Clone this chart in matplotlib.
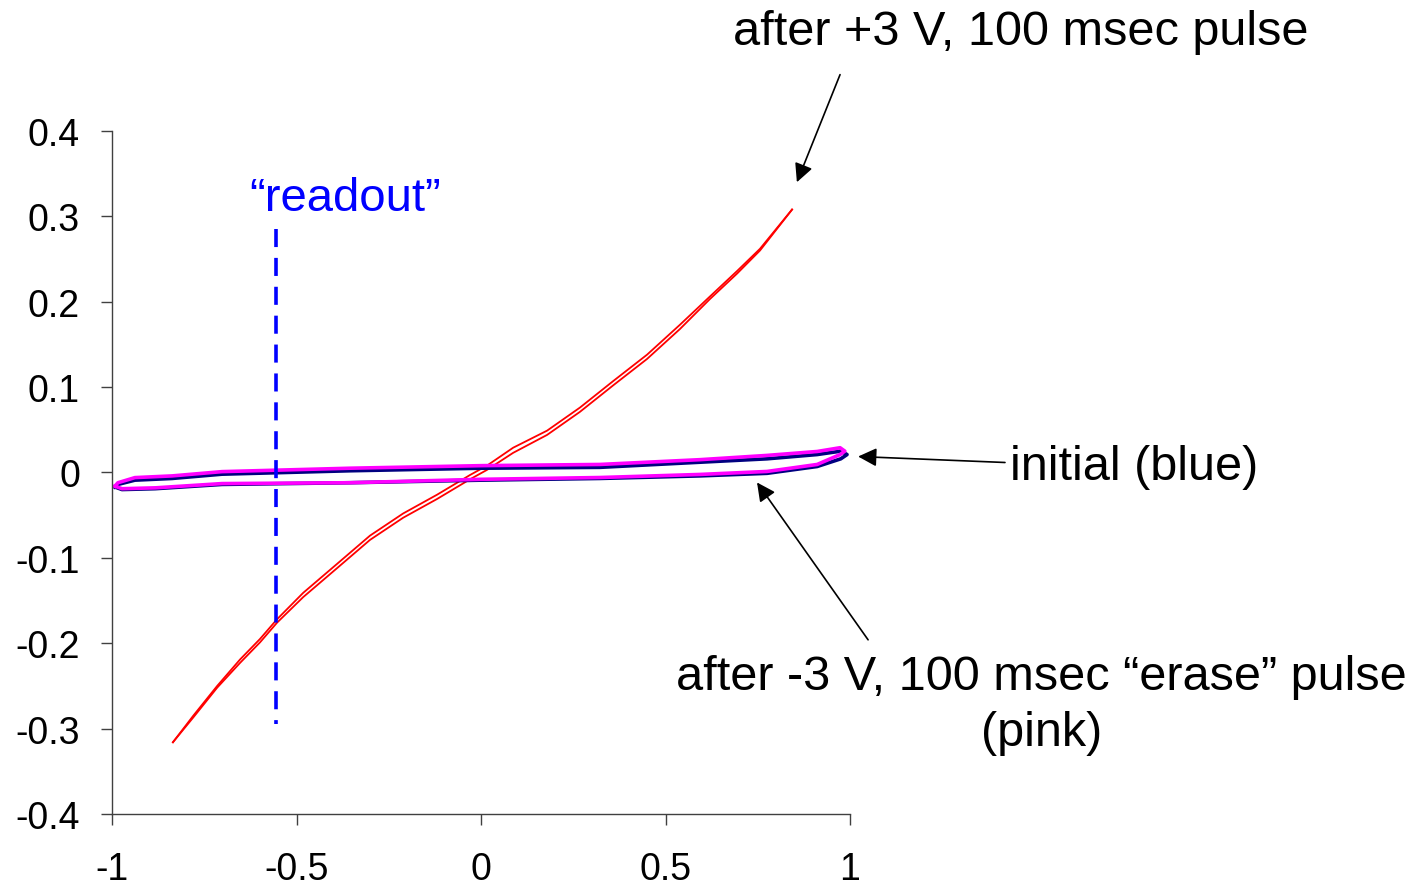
import matplotlib

matplotlib.use("Agg")
import matplotlib.pyplot as plt

plt.rcParams["font.family"] = ["Liberation Sans", "DejaVu Sans"]

# red: after +3 V pulse, sweep up (left branch) and sweep back (right branch)
RED_UP_X = [-0.835, -0.78, -0.715, -0.653, -0.599, -0.553, -0.482, -0.39, -0.301, -0.211,
            -0.119, -0.03, 0.016, 0.087, 0.179, 0.268, 0.358, 0.45, 0.539, 0.62, 0.694,
            0.756, 0.843]
RED_UP_Y = [-0.316, -0.285, -0.250, -0.219, -0.195, -0.172, -0.141, -0.107, -0.074, -0.048,
            -0.026, -0.003, 0.008, 0.029, 0.049, 0.076, 0.107, 0.138, 0.173, 0.206, 0.236,
            0.262, 0.308]
RED_DN_X = [0.843, 0.756, 0.694, 0.62, 0.539, 0.45, 0.358, 0.268, 0.179, 0.087, 0.016, -0.03,
            -0.119, -0.211, -0.301, -0.39, -0.482, -0.553, -0.599, -0.653, -0.715, -0.78,
            -0.835]
RED_DN_Y = [0.308, 0.260, 0.233, 0.203, 0.168, 0.133, 0.102, 0.071, 0.044, 0.023, 0.003,
            -0.008, -0.031, -0.053, -0.079, -0.112, -0.146, -0.176, -0.199, -0.223, -0.252,
            -0.287, -0.316]

# blue: initial loop
BLUE_X = [-0.992, -0.984, -0.938, -0.837, -0.702, -0.355, 0.0, 0.322, 0.593, 0.775, 0.911,
          0.975, 0.992, 0.975, 0.911, 0.775, 0.593, 0.322, 0.0, -0.355, -0.702, -0.883,
          -0.973, -0.992]
BLUE_Y = [-0.017, -0.014, -0.009, -0.007, -0.002, 0.002, 0.005, 0.006, 0.012, 0.016, 0.021,
          0.025, 0.021, 0.016, 0.007, -0.001, -0.004, -0.007, -0.009, -0.012, -0.014,
          -0.019, -0.020, -0.017]
# pink: after -3 V erase pulse
PINK_X = [-0.992, -0.984, -0.938, -0.837, -0.702, -0.355, 0.0, 0.322, 0.593, 0.775, 0.911,
          0.973, 0.986, 0.973, 0.911, 0.775, 0.593, 0.322, 0.0, -0.355, -0.702, -0.883,
          -0.973, -0.992]
PINK_Y = [-0.016, -0.012, -0.006, -0.004, 0.001, 0.005, 0.008, 0.0094, 0.015, 0.020, 0.0246,
          0.029, 0.025, 0.021, 0.0094, 0.0012, -0.0023, -0.0059, -0.008, -0.012, -0.013,
          -0.018, -0.019, -0.016]

READOUT_X = -0.555
READOUT_Y = [0.285, -0.295]

X_TICKS = [-1, -0.5, 0, 0.5, 1]
Y_TICKS = [-0.4, -0.3, -0.2, -0.1, 0, 0.1, 0.2, 0.3, 0.4]

fig = plt.figure(figsize=(14.2, 8.87), dpi=100)
ax = fig.add_axes([0.0789, 0.0812, 0.5197, 0.770])

ax.plot(RED_UP_X, RED_UP_Y, color="red", lw=1.3)
ax.plot(RED_DN_X, RED_DN_Y, color="red", lw=1.3)
ax.plot(BLUE_X, BLUE_Y, color="#000080", lw=2.6, solid_joinstyle="round")
ax.plot(PINK_X, PINK_Y, color="#ff00ff", lw=2.6, solid_joinstyle="round")
ax.plot([READOUT_X, READOUT_X], READOUT_Y, color="#0000ff", lw=2.6, ls=(0, (5, 3)))

ax.set_xlim(-1, 1)
ax.set_ylim(-0.4, 0.4)
ax.set_xticks(X_TICKS)
ax.set_xticklabels(["-1", "-0.5", "0", "0.5", "1"])
ax.set_yticks(Y_TICKS)
ax.set_yticklabels(["-0.4", "-0.3", "-0.2", "-0.1", "0", "0.1", "0.2", "0.3", "0.4"])
ax.tick_params(labelsize=27, length=8, width=1, color="#404040")
ax.tick_params(axis="y", pad=15)
ax.tick_params(axis="x", pad=19)
for s in ("top", "right"):
    ax.spines[s].set_visible(False)
for s in ("left", "bottom"):
    ax.spines[s].set_color("#404040")
    ax.spines[s].set_linewidth(1)

ax.text(-0.369, 0.322, "\u201creadout\u201d", color="#0000ff", fontsize=34,
        ha="center", va="center")

fs = 35
aprops = dict(arrowstyle="-|>", color="black", lw=1.2, mutation_scale=28, shrinkA=0, shrinkB=0)
ax.text(1.463, 0.517, "after +3 V, 100 msec pulse", fontsize=fs, ha="center", va="center",
        clip_on=False)
ax.annotate("", xy=(0.856, 0.340), xytext=(0.973, 0.466), arrowprops=aprops,
            annotation_clip=False)
ax.text(1.434, 0.007, "initial (blue)", fontsize=fs, ha="left", va="center", clip_on=False)
ax.annotate("", xy=(1.022, 0.0187), xytext=(1.420, 0.0117), arrowprops=aprops,
            annotation_clip=False)
ax.text(1.518, -0.272, "after -3 V, 100 msec \u201cerase\u201d pulse\n(pink)", fontsize=fs,
        ha="center", va="center", multialignment="center", linespacing=1.33, clip_on=False)
ax.annotate("", xy=(0.748, -0.0117), xytext=(1.049, -0.196), arrowprops=aprops,
            annotation_clip=False)

fig.savefig("out.png", dpi=100)
